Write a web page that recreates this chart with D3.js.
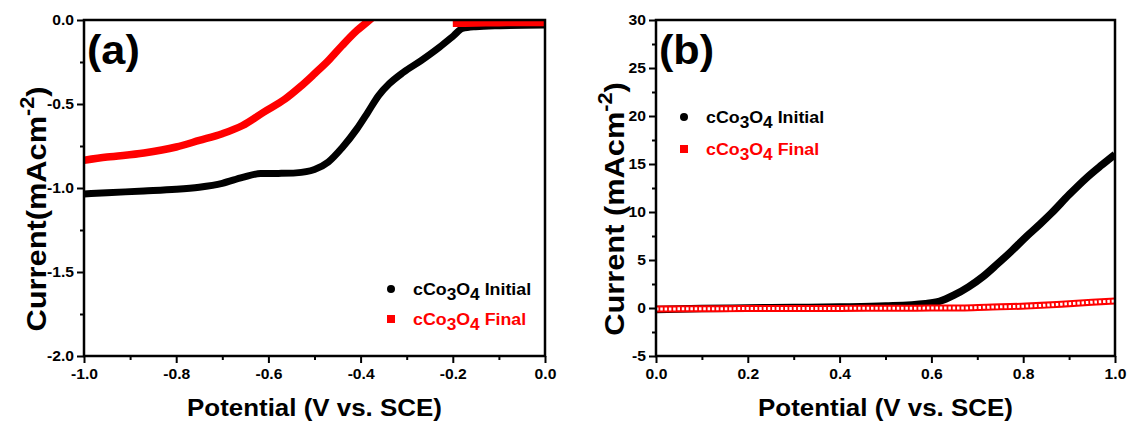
<!DOCTYPE html>
<html>
<head>
<meta charset="utf-8">
<script src="https://cdn.jsdelivr.net/npm/d3@7"></script>
<style>
  html, body { margin: 0; padding: 0; background: #fff; }
  svg { display: block; }
  text { font-family: "Liberation Sans", Arial, sans-serif; font-weight: bold; }
</style>
</head>
<body>
<script>
// ---- (a) cathodic scan, potential in V vs. SCE, current in mA cm^-2 ----
const potInitialA = [-1.0, -0.95, -0.87, -0.8, -0.75, -0.70, -0.656, -0.617, -0.578, -0.54, -0.50, -0.47, -0.44, -0.408, -0.384, -0.361, -0.338, -0.307, -0.268, -0.229, -0.198, -0.179, -0.151, -0.097, 0.0];
const curInitialA = [-1.035, -1.028, -1.018, -1.008, -0.995, -0.972, -0.937, -0.914, -0.913, -0.91, -0.89, -0.845, -0.76, -0.648, -0.548, -0.45, -0.38, -0.311, -0.24, -0.162, -0.093, -0.05, -0.04, -0.034, -0.03];
const potFinalA = [-1.0, -0.95, -0.87, -0.8, -0.75, -0.70, -0.656, -0.61, -0.563, -0.532, -0.50, -0.47, -0.44, -0.408, -0.384, -0.372, -0.3, -0.2, -0.15, -0.1, -0.05, 0.0];
const curFinalA = [-0.835, -0.816, -0.792, -0.756, -0.717, -0.677, -0.628, -0.548, -0.469, -0.40, -0.32, -0.242, -0.152, -0.063, -0.008, 0.02, null, -0.02, -0.018, -0.016, -0.015, -0.015];

// ---- (b) anodic scan ----
const potInitialB = [0.0, 0.1, 0.2, 0.3, 0.4, 0.5, 0.587, 0.618, 0.649, 0.681, 0.712, 0.743, 0.775, 0.806, 0.837, 0.861, 0.9, 0.939, 0.97, 1.0];
const curInitialB = [-0.15, -0.05, 0.0, 0.05, 0.1, 0.2, 0.45, 0.7, 1.33, 2.2, 3.25, 4.55, 5.95, 7.4, 8.75, 9.85, 11.8, 13.6, 14.85, 16.0];
const potFinalB = [0.0, 0.1, 0.2, 0.3, 0.4, 0.5, 0.6, 0.665, 0.72, 0.806, 0.85, 0.9, 0.95, 1.0];
const curFinalB = [-0.1, -0.08, -0.06, -0.05, -0.04, -0.03, -0.01, 0.0, 0.08, 0.2, 0.3, 0.45, 0.6, 0.73];

// ---- axis ticks ----
const xTicksA = [-1.0, -0.8, -0.6, -0.4, -0.2, 0.0];
const xMinorA = [-0.9, -0.7, -0.5, -0.3, -0.1];
const yTicksA = [-2.0, -1.5, -1.0, -0.5, 0.0];
const yMinorA = [-1.75, -1.25, -0.75, -0.25];
const xTicksB = [0.0, 0.2, 0.4, 0.6, 0.8, 1.0];
const xMinorB = [0.1, 0.3, 0.5, 0.7, 0.9];
const yTicksB = [-5, 0, 5, 10, 15, 20, 25, 30];
const yMinorB = [-2.5, 2.5, 7.5, 12.5, 17.5, 22.5, 27.5];

const seriesNames = ["Initial", "Final"];
const seriesColors = ["#000000", "#ff0000"];

const W = 1130, H = 425;
const SX = 1.08; // text is set slightly wide

const svg = d3.select("body").append("svg").attr("width", W).attr("height", H);

function zip(xs, ys) { return xs.map((x, i) => ({ x, y: ys[i] })); }
// plain hyphen for negative numbers
function fmt(spec) { const f = d3.format(spec); return d => f(d).replace("\u2212", "-"); }

function wideText(sel) {
  sel.each(function () {
    const t = d3.select(this);
    const prev = t.attr("transform") || "";
    t.attr("transform", prev + ` scale(${SX},1)`);
  });
}

function legendLabel(g, x, y, name, color) {
  const t = g.append("text").attr("x", x / SX).attr("y", y)
    .attr("transform", `scale(${SX},1)`)
    .attr("fill", color).style("font-size", "16.5px");
  t.append("tspan").text("cCo");
  t.append("tspan").attr("dy", 5).style("font-size", "16px").text("3");
  t.append("tspan").attr("dy", -5).text("O");
  t.append("tspan").attr("dy", 5).style("font-size", "16px").text("4");
  t.append("tspan").attr("dy", -5).text(" " + name);
}

function panel(cfg) {
  const x = d3.scaleLinear().domain(cfg.xDomain).range([cfg.left, cfg.right]);
  const y = d3.scaleLinear().domain(cfg.yDomain).range([cfg.bottom, cfg.top]);
  const g = svg.append("g");

  const clipId = "clip-" + cfg.id;
  svg.append("defs").append("clipPath").attr("id", clipId)
    .append("rect").attr("x", cfg.left).attr("y", cfg.top)
    .attr("width", cfg.right - cfg.left).attr("height", cfg.bottom - cfg.top);

  const plot = g.append("g").attr("clip-path", `url(#${clipId})`);
  const line = d3.line().defined(d => d.y !== null)
    .x(d => x(d.x)).y(d => y(d.y)).curve(d3.curveMonotoneX);

  cfg.draw(plot, line);

  // frame
  g.append("rect").attr("x", cfg.left).attr("y", cfg.top)
    .attr("width", cfg.right - cfg.left).attr("height", cfg.bottom - cfg.top)
    .attr("fill", "none").attr("stroke", "#000").attr("stroke-width", 2.5);

  // axes
  const xAxis = g.append("g").attr("transform", `translate(0,${cfg.bottom})`)
    .call(d3.axisBottom(x).tickValues(cfg.xTicks).tickSize(7).tickPadding(4).tickFormat(cfg.xFmt));
  g.append("g").attr("transform", `translate(0,${cfg.bottom})`)
    .call(d3.axisBottom(x).tickValues(cfg.xMinor).tickSize(4).tickFormat(""));
  const yAxis = g.append("g").attr("transform", `translate(${cfg.left},0)`)
    .call(d3.axisLeft(y).tickValues(cfg.yTicks).tickSize(7).tickPadding(3).tickFormat(cfg.yFmt));
  g.append("g").attr("transform", `translate(${cfg.left},0)`)
    .call(d3.axisLeft(y).tickValues(cfg.yMinor).tickSize(4).tickFormat(""));
  g.selectAll(".domain").remove();
  g.selectAll(".tick line").attr("stroke", "#000").attr("stroke-width", 2);
  g.selectAll(".tick text").attr("fill", "#000")
    .style("font-size", "14.5px").style("font-family", "Liberation Sans, Arial, sans-serif")
    .style("font-weight", "bold");
  xAxis.selectAll("text").attr("dy", "0.85em");
  yAxis.selectAll("text").attr("x", -10 / SX);
  wideText(xAxis.selectAll("text"));
  wideText(yAxis.selectAll("text"));

  // panel letter
  g.append("text").attr("x", (cfg.left + 3) / SX).attr("y", cfg.top + 44)
    .attr("transform", `scale(${SX},1)`).style("font-size", "40px").text(cfg.letter);

  // axis titles
  const cx = (cfg.left + cfg.right) / 2;
  g.append("text").attr("x", cx / SX).attr("y", 416).attr("text-anchor", "middle")
    .attr("transform", `scale(${SX},1)`).style("font-size", "24px")
    .text("Potential (V vs. SCE)");

  const yt = g.append("text").attr("text-anchor", "middle")
    .attr("transform", `translate(${cfg.yTitleX},209) rotate(-90) scale(${SX},1)`)
    .style("font-size", "28.5px");
  yt.append("tspan").text(cfg.yTitle);
  yt.append("tspan").attr("dy", -12).style("font-size", "20px").text("-2");
  yt.append("tspan").attr("dy", 12).text(")");

  // legend
  const lg = g.append("g");
  lg.append("circle").attr("cx", cfg.legX).attr("cy", cfg.legY).attr("r", 4).attr("fill", seriesColors[0]);
  lg.append("rect").attr("x", cfg.legX - 4).attr("y", cfg.legY + cfg.legGap - 4)
    .attr("width", 8).attr("height", 8).attr("fill", seriesColors[1]);
  legendLabel(lg, cfg.legX + 22, cfg.legY + 6, seriesNames[0], seriesColors[0]);
  legendLabel(lg, cfg.legX + 22, cfg.legY + cfg.legGap + 6, seriesNames[1], seriesColors[1]);
}

panel({
  id: "a", letter: "(a)",
  left: 84, right: 545, top: 20, bottom: 356,
  xDomain: [-1, 0], yDomain: [-2, 0],
  xTicks: xTicksA, xMinor: xMinorA, yTicks: yTicksA, yMinor: yMinorA,
  xFmt: fmt(".1f"), yFmt: fmt(".1f"),
  yTitle: "Current(mAcm", yTitleX: 46,
  legX: 391, legY: 289, legGap: 30,
  draw(plot, line) {
    plot.append("path").datum(zip(potInitialA, curInitialA))
      .attr("d", line).attr("fill", "none").attr("stroke", seriesColors[0])
      .attr("stroke-width", 7);
    plot.append("path").datum(zip(potFinalA, curFinalA))
      .attr("d", line).attr("fill", "none").attr("stroke", seriesColors[1])
      .attr("stroke-width", 7.5);
  }
});

panel({
  id: "b", letter: "(b)",
  left: 656, right: 1115, top: 20, bottom: 356,
  xDomain: [0, 1], yDomain: [-5, 30],
  xTicks: xTicksB, xMinor: xMinorB, yTicks: yTicksB, yMinor: yMinorB,
  xFmt: fmt(".1f"), yFmt: fmt("d"),
  yTitle: "Current (mAcm", yTitleX: 624,
  legX: 684, legY: 117, legGap: 32,
  draw(plot, line) {
    plot.append("path").datum(zip(potInitialB, curInitialB))
      .attr("d", line).attr("fill", "none").attr("stroke", seriesColors[0])
      .attr("stroke-width", 7.5);
    // open-circle markers: red rim with a broken white core
    const fin = zip(potFinalB, curFinalB);
    plot.append("path").datum(fin)
      .attr("d", line).attr("fill", "none").attr("stroke", seriesColors[1])
      .attr("stroke-width", 7);
    plot.append("path").datum(fin)
      .attr("d", line).attr("fill", "none").attr("stroke", "#fff")
      .attr("stroke-width", 3).attr("stroke-dasharray", "2.5 1.8");
  }
});
</script>
</body>
</html>
